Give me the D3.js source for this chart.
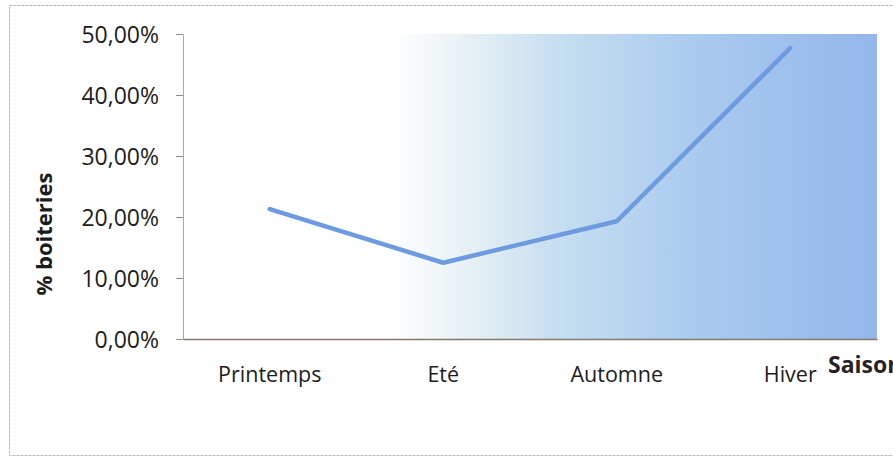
<!DOCTYPE html>
<html>
<head>
<meta charset="utf-8">
<script src="https://cdn.jsdelivr.net/npm/d3@7/dist/d3.min.js"></script>
<style>
  html, body { margin: 0; padding: 0; background: #fff; }
  svg { display: block; font-family: "Open Sans", sans-serif; }
</style>
</head>
<body>
<svg id="chart" width="893" height="457"></svg>
<script>
// Share of lameness per season
const seasons = ["Printemps", "Eté", "Automne", "Hiver"];
const boiteries = [0.213, 0.125, 0.193, 0.477];
const yTicks = [0, 0.1, 0.2, 0.3, 0.4, 0.5];
const yTitle = "% boiteries";
const xTitle = "Saison";

const svg = d3.select("#chart");
const plot = { left: 183, right: 877, top: 34, bottom: 339 };

const x = d3.scaleBand().domain(seasons).range([plot.left, plot.right]);
const y = d3.scaleLinear().domain([0, 0.5]).range([plot.bottom, plot.top]);
const fmt = v => d3.format(".2f")(v * 100).replace(".", ",") + "%";

// outer frame
svg.append("rect")
  .attr("x", 9.5).attr("y", 5.5).attr("width", 900).attr("height", 450)
  .attr("fill", "none").attr("stroke", "#b5b5b5").attr("stroke-width", 1)
  .attr("stroke-dasharray", "3,1");

// plot background: white fading into blue toward the right
const defs = svg.append("defs");
const grad = defs.append("linearGradient").attr("id", "bg")
  .attr("x1", "0").attr("y1", "0").attr("x2", "1").attr("y2", "0");
[[0, "#ffffff"], [0.3, "#ffffff"], [0.42, "#e4eff4"], [0.55, "#c4ddf0"],
 [0.75, "#a9c9ef"], [1, "#94b6eb"]].forEach(([o, c]) =>
  grad.append("stop").attr("offset", o).attr("stop-color", c));

svg.append("rect")
  .attr("x", plot.left).attr("y", plot.top)
  .attr("width", plot.right - plot.left).attr("height", plot.bottom - plot.top)
  .attr("fill", "url(#bg)");

// y axis
const yAxis = svg.append("g")
  .attr("transform", `translate(${plot.left},0)`)
  .call(d3.axisLeft(y).tickValues(yTicks).tickFormat(fmt).tickSize(7).tickSizeOuter(0));
yAxis.select(".domain").attr("stroke", "#a8a8a8");
yAxis.selectAll(".tick line").attr("stroke", "#8a8a8a");
yAxis.selectAll(".tick text")
  .attr("x", -24).attr("dy", "0.36em")
  .attr("fill", "#1c1c1c").style("font-size", "23px")
  .style("font-family", "'Open Sans', sans-serif");

// x axis
const xAxis = svg.append("g")
  .attr("transform", `translate(0,${plot.bottom})`)
  .call(d3.axisBottom(x).tickSize(0).tickSizeOuter(0));
xAxis.select(".domain").attr("stroke", "#86786a").attr("stroke-width", 1.5);
xAxis.selectAll(".tick text")
  .attr("y", 43).attr("dy", 0)
  .attr("fill", "#1c1c1c").style("font-size", "21.5px")
  .style("font-family", "'Open Sans', sans-serif");

// axis titles
svg.append("text")
  .attr("transform", "translate(52,234) rotate(-90)")
  .attr("text-anchor", "middle")
  .attr("fill", "#1c1c1c").style("font-size", "22px").style("font-weight", "bold")
  .text(yTitle);

svg.append("text")
  .attr("x", 828).attr("y", 373)
  .attr("fill", "#2a1f24").style("font-size", "23px").style("font-weight", "bold")
  .text(xTitle);

// series line
const line = d3.line()
  .x((d, i) => x(seasons[i]) + x.bandwidth() / 2)
  .y(d => y(d));

svg.append("path")
  .datum(boiteries)
  .attr("d", line)
  .attr("fill", "none")
  .attr("stroke", "#6e9ae0")
  .attr("stroke-width", 4.5)
  .attr("stroke-linejoin", "round")
  .attr("stroke-linecap", "round");
</script>
</body>
</html>
